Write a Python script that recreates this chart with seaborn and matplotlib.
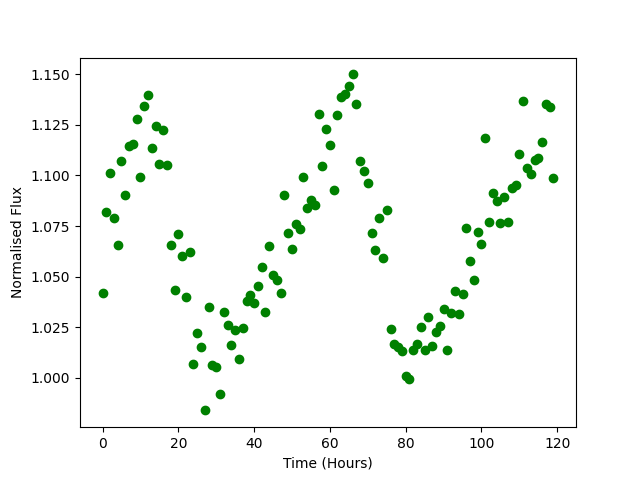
import matplotlib
matplotlib.use("Agg")
import matplotlib.pyplot as plt
import seaborn as sns
import numpy as np

# time in hours, one reading per hour
hours = list(range(120))

flux = [1.0419, 1.0820, 1.1013, 1.0791, 1.0657, 1.1069, 1.0904, 1.1144, 1.1153, 1.1281,
        1.0994, 1.1345, 1.1396, 1.1137, 1.1246, 1.1058, 1.1226, 1.1053, 1.0657, 1.0434,
        1.0711, 1.0602, 1.0400, 1.0622, 1.0068, 1.0221, 1.0155, 0.9840, 1.0350, 1.0064,
        1.0053, 0.9919, 1.0325, 1.0261, 1.0162, 1.0236, 1.0093, 1.0246, 1.0381, 1.0409,
        1.0370, 1.0454, 1.0548, 1.0325, 1.0652, 1.0510, 1.0484, 1.0419, 1.0904, 1.0716,
        1.0637, 1.0761, 1.0736, 1.0994, 1.0840, 1.0880, 1.0855, 1.1305, 1.1048, 1.1231,
        1.1152, 1.0929, 1.1300, 1.1385, 1.1404, 1.1444, 1.1499, 1.1355, 1.1073, 1.1023,
        1.0964, 1.0716, 1.0632, 1.0791, 1.0593, 1.0830, 1.0241, 1.0170, 1.0155, 1.0134,
        1.0010, 0.9994, 1.0137, 1.0170, 1.0252, 1.0137, 1.0303, 1.0158, 1.0229, 1.0259,
        1.0343, 1.0137, 1.0323, 1.0431, 1.0315, 1.0414, 1.0743, 1.0578, 1.0484, 1.0721,
        1.0662, 1.1187, 1.0771, 1.0914, 1.0875, 1.0766, 1.0895, 1.0771, 1.0937, 1.0955,
        1.1107, 1.1370, 1.1035, 1.1006, 1.1074, 1.1088, 1.1167, 1.1351, 1.1340, 1.0989]

fig, ax = plt.subplots(figsize=(6.4, 4.8), dpi=100)
sns.scatterplot(x=hours, y=flux, color='green', edgecolor='green', linewidth=1, s=36, ax=ax)
ax.set_xlabel('Time (Hours)')
ax.set_ylabel('Normalised Flux')
fig.savefig('out.png', dpi=100)
